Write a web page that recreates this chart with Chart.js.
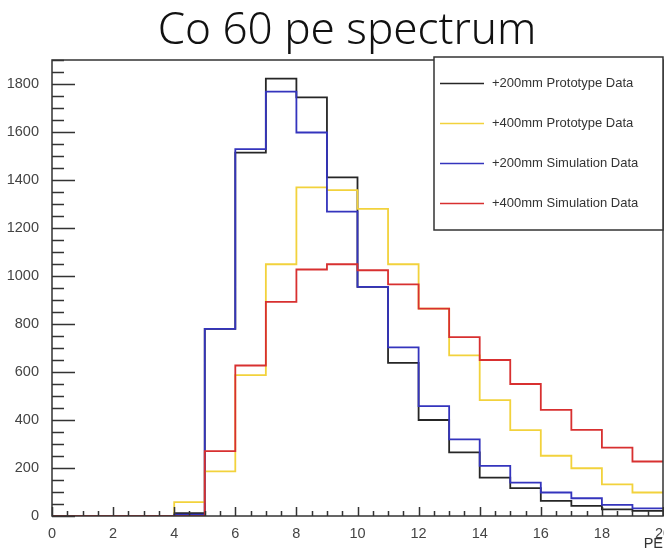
<!DOCTYPE html>
<html>
<head>
<meta charset="utf-8">
<script src="https://cdn.jsdelivr.net/npm/chart.js@4/dist/chart.umd.min.js"></script>
<style>
    html, body { margin: 0; padding: 0; background: #fff; }
</style>
</head>
<body>
<canvas id="spectrum" width="664" height="553"></canvas>
<script>
const chartTitle = 'Co 60 pe spectrum'
const xTitle = 'PE'

// PE bin edges (bins of width 1)
const binEdges = [0, 1, 2, 3, 4, 5, 6, 7, 8, 9, 10, 11, 12, 13, 14, 15, 16, 17, 18, 19, 20]

// counts per bin
const proto200 = [0, 0, 0, 0, 12, 780, 1514, 1822, 1744, 1411, 955, 638, 400, 265, 160, 116, 63, 42, 28, 21]
const proto400 = [0, 0, 0, 0, 58, 186, 587, 1049, 1369, 1358, 1280, 1049, 864, 669, 483, 358, 251, 199, 132, 98]
const sim200 = [0, 0, 0, 0, 6, 780, 1529, 1768, 1598, 1268, 955, 703, 458, 319, 209, 139, 98, 74, 46, 32]
const sim400 = [0, 0, 0, 0, 0, 270, 627, 892, 1027, 1049, 1024, 965, 864, 745, 650, 550, 442, 359, 285, 227]

const seriesLabels = [
    '+200mm Prototype Data',
    '+400mm Prototype Data',
    '+200mm Simulation Data',
    '+400mm Simulation Data'
]

const axisFont = { family: "'Liberation Sans', Arial, sans-serif", size: 14.5 }

// one point per bin edge, last bin repeated so the step closes at x = 20
function histogram(values) {
    return binEdges.map((edge, i) => ({ x: edge, y: values[Math.min(i, values.length - 1)] }))
}

// ROOT style frame with ticks pointing inward
const rootFrame = {
    id: 'rootFrame',
    afterDatasetsDraw(chart) {
        const { ctx, chartArea: a, scales: { x, y } } = chart
        ctx.save()
        ctx.strokeStyle = '#333'
        ctx.lineWidth = 1.5
        ctx.strokeRect(a.left, a.top, a.right - a.left, a.bottom - a.top)
        ctx.beginPath()
        for (let v = 0; v <= y.max; v += 50) {
            const py = Math.round(y.getPixelForValue(v)) + 0.5
            ctx.moveTo(a.left, py)
            ctx.lineTo(a.left + (v % 200 === 0 ? 23 : 12), py)
        }
        for (let v = 0; v <= x.max; v += 0.5) {
            const px = Math.round(x.getPixelForValue(v)) + 0.5
            ctx.moveTo(px, a.bottom)
            ctx.lineTo(px, a.bottom - (v % 2 === 0 ? 9 : 5))
        }
        ctx.stroke()
        ctx.restore()
    }
}

const boxLegend = {
    id: 'boxLegend',
    afterDraw(chart) {
        const ctx = chart.ctx
        const box = { left: 434, top: 57, right: 663, bottom: 230 }
        ctx.save()
        ctx.fillStyle = '#fff'
        ctx.fillRect(box.left, box.top, box.right - box.left, box.bottom - box.top)
        ctx.strokeStyle = '#333'
        ctx.lineWidth = 1.5
        ctx.strokeRect(box.left, box.top, box.right - box.left, box.bottom - box.top)
        ctx.font = "13px 'Liberation Sans', Arial, sans-serif"
        ctx.textBaseline = 'middle'
        chart.data.datasets.forEach((ds, i) => {
            const cy = 83 + i * 40
            ctx.strokeStyle = ds.borderColor
            ctx.beginPath()
            ctx.moveTo(440, cy + 0.5)
            ctx.lineTo(484, cy + 0.5)
            ctx.stroke()
            ctx.fillStyle = '#333'
            ctx.fillText(ds.label, 492, cy)
        })
        ctx.restore()
    }
}

const titleText = {
    id: 'titleText',
    afterDraw(chart) {
        const ctx = chart.ctx
        ctx.save()
        ctx.fillStyle = '#111'
        ctx.font = "300 44px 'Noto Sans', sans-serif"
        ctx.textAlign = 'center'
        ctx.textBaseline = 'alphabetic'
        ctx.fillText(chartTitle, 347, 44)
        ctx.restore()
    }
}

new Chart(document.getElementById('spectrum').getContext('2d'), {
    type: 'line',
    data: {
        datasets: [
            { label: seriesLabels[0], data: histogram(proto200), borderColor: '#262626', order: 3 },
            { label: seriesLabels[1], data: histogram(proto400), borderColor: '#f2d23c', order: 2 },
            { label: seriesLabels[2], data: histogram(sim200), borderColor: '#3434bd', order: 1 },
            { label: seriesLabels[3], data: histogram(sim400), borderColor: '#d83030', order: 0 }
        ]
    },
    options: {
        responsive: false,
        animation: false,
        devicePixelRatio: 1,
        layout: { padding: { top: 60, right: 1, left: 0, bottom: 0 } },
        elements: {
            line: { borderWidth: 1.8, stepped: 'before', fill: false, tension: 0 },
            point: { radius: 0 }
        },
        plugins: {
            legend: { display: false },
            tooltip: { enabled: false }
        },
        scales: {
            x: {
                type: 'linear',
                min: 0,
                max: 20,
                grid: { display: false },
                border: { display: false },
                ticks: { stepSize: 2, padding: 1, color: '#444', font: axisFont, maxRotation: 0, autoSkip: false },
                title: { display: true, text: xTitle, align: 'end', color: '#333', font: axisFont, padding: 0 },
                afterFit: s => { s.height = 37; s.paddingLeft = 0; s.paddingRight = 0 }
            },
            y: {
                min: 0,
                max: 1900,
                grid: { display: false },
                border: { display: false },
                ticks: { stepSize: 200, padding: 5, color: '#444', font: axisFont, callback: v => String(v) },
                afterBuildTicks: s => { s.ticks = s.ticks.filter(t => t.value % 200 === 0) },
                afterFit: s => { s.width = 52 }
            }
        }
    },
    plugins: [rootFrame, boxLegend, titleText]
})
</script>
</body>
</html>
